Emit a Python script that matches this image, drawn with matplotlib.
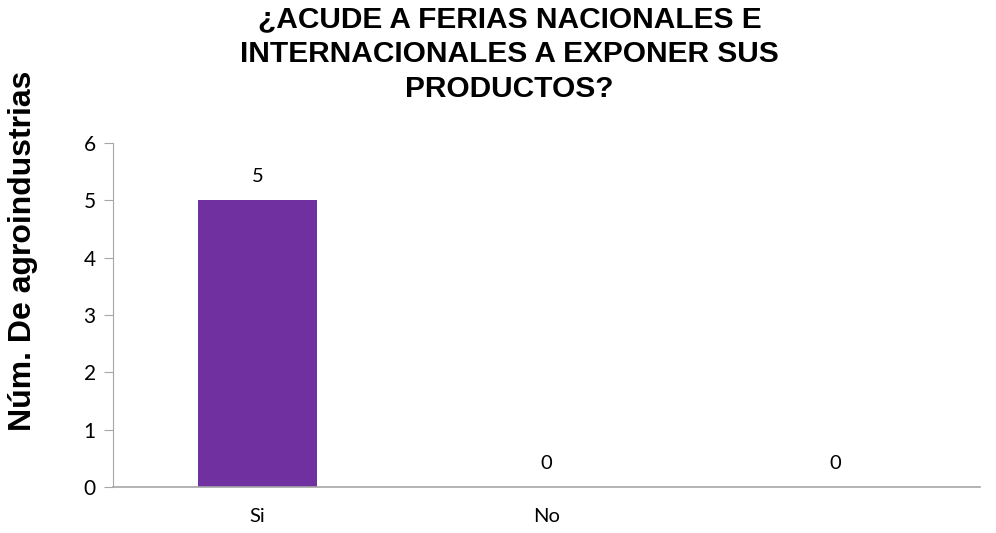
import numpy as np
import matplotlib.pyplot as plt

# Datos
categorias = ['Si', 'No', '']
valores = [5, 0, 0]
yticks = [0, 1, 2, 3, 4, 5, 6]

fig = plt.figure(figsize=(9.96, 5.33), dpi=100)
ax = fig.add_axes([0.1135, 0.086, 0.8705, 0.646])

x = np.arange(len(categorias))
barras = ax.bar(x, valores, width=0.41, color='#7030A0')

ax.set_xlim(-0.5, len(categorias) - 0.5)
ax.set_ylim(0, 6)
ax.set_yticks(yticks)
ax.set_xticks(x)
ax.set_xticklabels(categorias, fontfamily='Lato', fontsize=14.5)
ax.tick_params(axis='x', length=0, pad=15)
ax.tick_params(axis='y', length=6.5, color='#A6A6A6', labelsize=15, pad=6)
for lbl in ax.get_yticklabels():
    lbl.set_fontfamily('Lato')

for s in ['top', 'right']:
    ax.spines[s].set_visible(False)
ax.spines['left'].set_color('#A6A6A6')
ax.spines['bottom'].set_color('#A6A6A6')
ax.spines['bottom'].set_linewidth(1.2)

# etiquetas de valor
for xi, v in zip(x, valores):
    ax.annotate(str(v), (xi, v), xytext=(0, 17), textcoords='offset points',
                ha='center', va='center', fontfamily='Lato', fontsize=14.5)

fig.text(0.5115, 0.99, '¿ACUDE A FERIAS NACIONALES E\nINTERNACIONALES A EXPONER SUS\nPRODUCTOS?',
         ha='center', va='top', fontsize=21.5, fontweight='bold',
         fontfamily='Liberation Sans', linespacing=1.32)
fig.text(0.023, 0.53, 'Núm. De agroindustrias', rotation=90, ha='center', va='center',
         fontsize=23, fontweight='bold', fontfamily='Liberation Sans')

plt.savefig('out.png', dpi=100)
